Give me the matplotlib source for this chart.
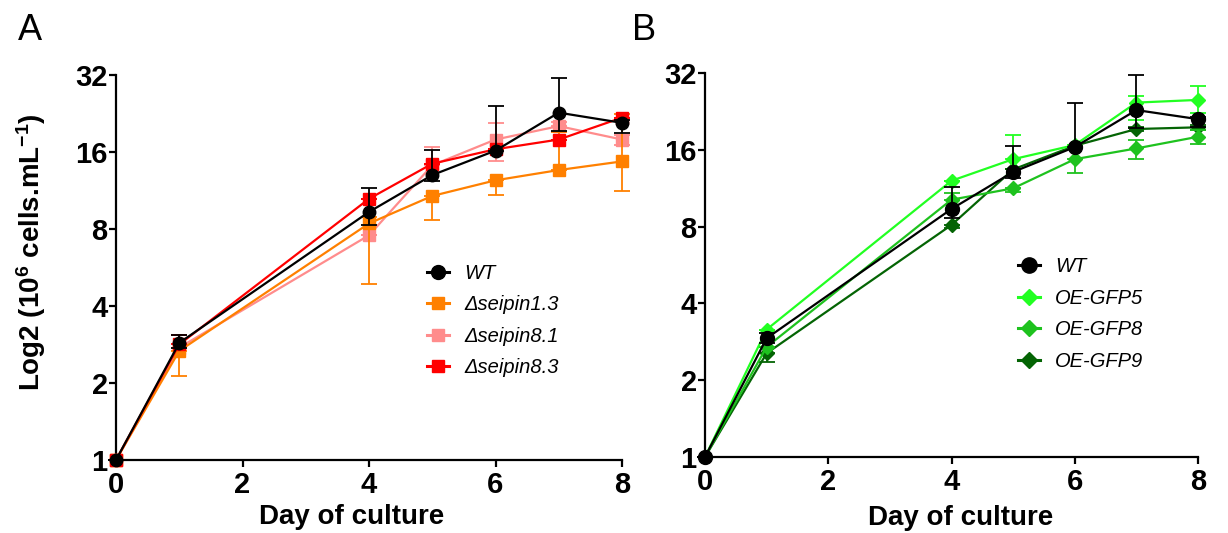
import matplotlib
matplotlib.use("Agg")
import matplotlib.pyplot as plt
from matplotlib.ticker import FixedLocator, FixedFormatter, NullLocator
from matplotlib.lines import Line2D

plt.rcParams['font.family'] = ['Liberation Sans', 'DejaVu Sans']
plt.rcParams['mathtext.fontset'] = 'custom'
plt.rcParams['mathtext.rm'] = 'Liberation Sans'
plt.rcParams['mathtext.bf'] = 'Liberation Sans:bold'
plt.rcParams['mathtext.it'] = 'Liberation Sans:italic'

days = [0, 1, 4, 5, 6, 7, 8]
y_ticks = [1, 2, 4, 8, 16, 32]
y_tick_labels = ["1", "2", "4", "8", "16", "32"]
x_ticks = [0, 2, 4, 6, 8]
x_tick_labels = ["0", "2", "4", "6", "8"]

# ---- Panel A ----
wt_a = [1, 2.87, 9.33, 13.0, 16.2, 22.8, 20.8]
wt_a_lo = [0, 0.12, 1.06, 0.7, 0, 3.5, 1.8]
wt_a_hi = [0, 0.2, 2.2, 3.3, 7.9, 8.3, 0.5]

s13 = [1, 2.67, 8.41, 10.77, 12.4, 13.6, 14.7]
s13_lo = [0, 0.54, 3.55, 2.1, 1.5, 0, 3.4]
s13_hi = [0, 0, 0.5, 0, 0, 5.5, 7.8]

s81 = [1, 2.75, 7.56, 14.2, 17.9, 20.2, 17.9]
s81_lo = [0, 0, 0, 0, 3.2, 0, 0.8]
s81_hi = [0, 0, 0, 2.5, 2.9, 0.8, 0.8]

s83 = [1, 2.83, 10.5, 14.4, 16.4, 17.9, 21.8]
s83_lo = [0, 0, 0, 0, 0, 0, 0]
s83_hi = [0, 0.25, 0, 0, 0, 0, 0]

# ---- Panel B ----
wt_b = [1, 2.92, 9.38, 13.1, 16.4, 22.9, 21.1]
wt_b_lo = [0, 0.12, 0.75, 0.7, 0, 3.5, 1.5]
wt_b_hi = [0, 0.13, 2.1, 3.4, 8.0, 8.6, 0.5]

g5 = [1, 3.16, 12.1, 14.7, 16.7, 24.5, 25.1]
g5_lo = [0, 0, 0, 0, 0, 3.5, 2.8]
g5_hi = [0, 0, 0, 3.6, 0, 1.4, 3.4]

g8 = [1, 2.70, 10.2, 11.3, 14.7, 16.2, 18.0]
g8_lo = [0, 0, 0, 0.4, 1.7, 1.5, 1.1]
g8_hi = [0, 0, 0.6, 0, 0, 1.3, 1.1]

g9 = [1, 2.55, 8.12, 13.4, 16.6, 19.3, 19.6]
g9_lo = [0, 0.19, 0.2, 0, 0, 0.4, 0.4]
g9_hi = [0, 0, 0, 0, 0, 0.4, 0.4]

labels_a = ["WT", "\u0394seipin1.3", "\u0394seipin8.1", "\u0394seipin8.3"]
labels_b = ["WT", "OE-GFP5", "OE-GFP8", "OE-GFP9"]

c_black = "#000000"
c_orange = "#FF8000"
c_pink = "#FF8C8C"
c_red = "#FF0000"
c_g5 = "#22FF22"
c_g8 = "#1EC21E"
c_g9 = "#046404"

fig = plt.figure(figsize=(12.28, 5.33), dpi=100)
axA = fig.add_axes([116/1228, 1-460/533, 506/1228, 385/533])
axB = fig.add_axes([705/1228, 1-457/533, 493/1228, 384/533])

def series(ax, y, lo, hi, color, marker, ms, z):
    ax.errorbar(days, y, yerr=[lo, hi], fmt='none', ecolor=color,
                elinewidth=1.3, capsize=6, capthick=1.3, clip_on=False,
                zorder=z)
    ax.plot(days, y, color=color, marker=marker, ms=ms, mec=color, mfc=color,
            lw=1.6, clip_on=False, zorder=z + 0.5)
    return Line2D([], [], color=color, marker=marker, ms=ms + 1, mec=color,
                  mfc=color, lw=2.2)

hA = {}
hA[labels_a[2]] = series(axA, s81, s81_lo, s81_hi, c_pink, 's', 8, 3)
hA[labels_a[1]] = series(axA, s13, s13_lo, s13_hi, c_orange, 's', 8, 4)
hA[labels_a[3]] = series(axA, s83, s83_lo, s83_hi, c_red, 's', 8, 5)
hA[labels_a[0]] = series(axA, wt_a, wt_a_lo, wt_a_hi, c_black, 'o', 9, 6)

hB = {}
hB[labels_b[3]] = series(axB, g9, g9_lo, g9_hi, c_g9, 'D', 7, 3)
hB[labels_b[2]] = series(axB, g8, g8_lo, g8_hi, c_g8, 'D', 7, 4)
hB[labels_b[1]] = series(axB, g5, g5_lo, g5_hi, c_g5, 'D', 7, 5)
hB[labels_b[0]] = series(axB, wt_b, wt_b_lo, wt_b_hi, c_black, 'o', 10, 6)

for ax in (axA, axB):
    ax.set_yscale('log', base=2)
    ax.set_ylim(1, 32)
    ax.set_xlim(0, 8)
    ax.yaxis.set_major_locator(FixedLocator(y_ticks))
    ax.yaxis.set_major_formatter(FixedFormatter(y_tick_labels))
    ax.yaxis.set_minor_locator(NullLocator())
    ax.xaxis.set_major_locator(FixedLocator(x_ticks))
    ax.xaxis.set_major_formatter(FixedFormatter(x_tick_labels))
    for s in ('top', 'right'):
        ax.spines[s].set_visible(False)
    for s in ('left', 'bottom'):
        ax.spines[s].set_linewidth(1.6)
    ax.tick_params(axis='both', direction='out', length=5, width=1.6,
                   labelsize=21)
    ax.tick_params(axis='y', pad=1)
    ax.tick_params(axis='x', pad=3)
    for t in ax.get_xticklabels() + ax.get_yticklabels():
        t.set_fontweight('bold')
    ax.set_xlabel("Day of culture", fontsize=20, fontweight='bold')

axA.xaxis.set_label_coords(0.466, -0.115)
axB.xaxis.set_label_coords(0.519, -0.125)

axA.set_ylabel(r"Log2 (10$^{\mathbf{6}}$ cells.mL$^{\mathbf{-1}}$)", fontsize=20,
               fontweight='bold')
axA.yaxis.set_label_coords(-0.135, 0.54)

def legend(ax, handles, labels, anchor):
    ax.legend([handles[k] for k in labels], labels, loc='upper left',
              bbox_to_anchor=anchor, frameon=False, borderpad=0,
              borderaxespad=0, handlelength=1.1, handletextpad=0.75,
              labelspacing=0.62, prop={'style': 'italic', 'size': 14.5})

legend(axA, hA, labels_a, (0.615, 0.51))
legend(axB, hB, labels_b, (0.635, 0.52))

fig.text(18/1228, 1-30/533, "A", fontsize=26, va='center', ha='left')
fig.text(632/1228, 1-30/533, "B", fontsize=26, va='center', ha='left')

fig.savefig("out.png", dpi=100)
